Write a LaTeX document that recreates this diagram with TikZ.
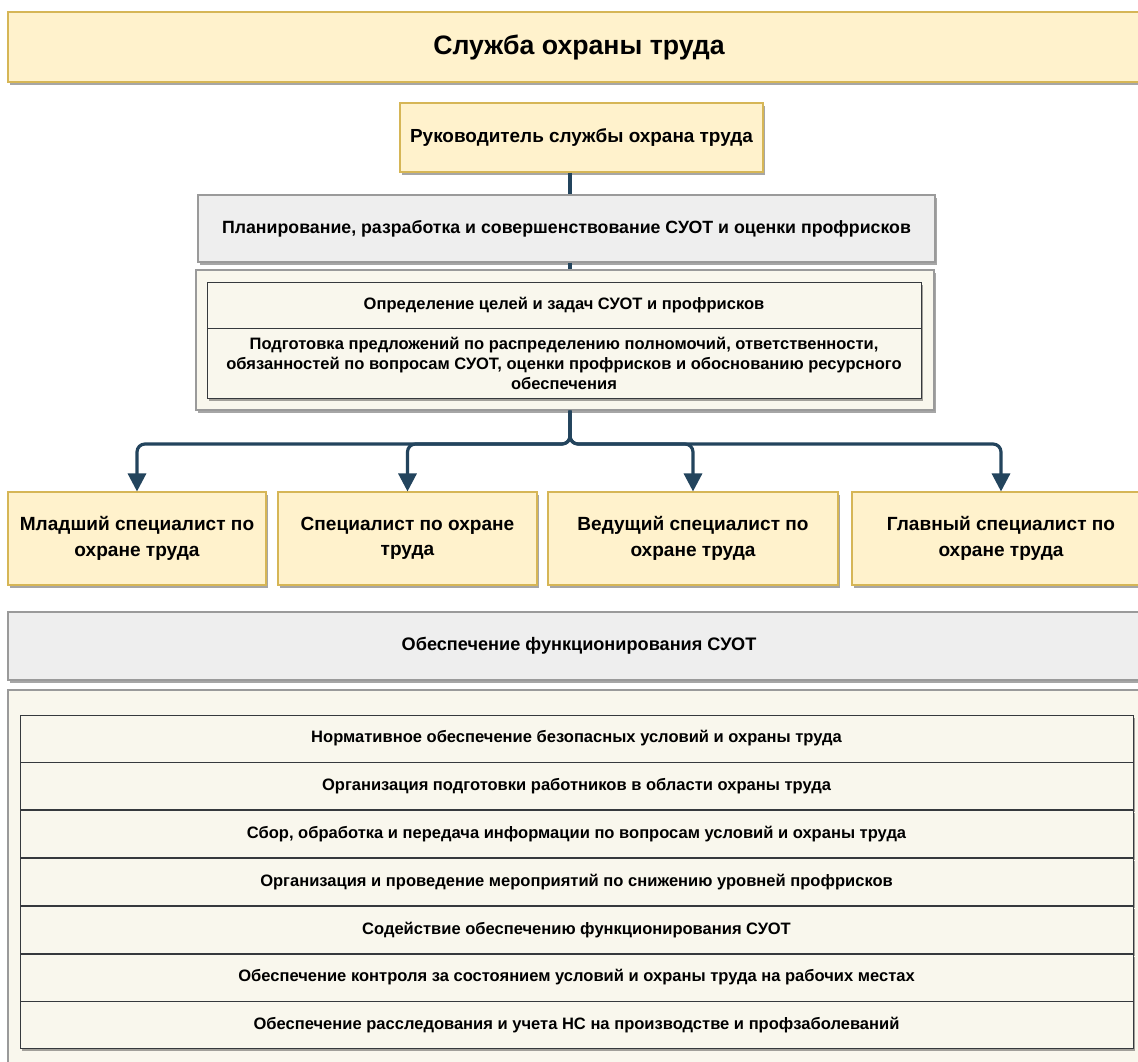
\documentclass[tikz,border=0pt]{standalone}
\usepackage{fontspec}
\setmainfont{Liberation Sans}
\usetikzlibrary{positioning,arrows.meta,shadows}
\definecolor{zheltyj}{HTML}{FFF2CC}
\definecolor{zheltkraj}{HTML}{D6B656}
\definecolor{seryj}{HTML}{EEEEEE}
\definecolor{serkraj}{HTML}{9A9A9A}
\definecolor{krem}{HTML}{F9F7ED}
\definecolor{temnyj}{HTML}{36393D}
\definecolor{sinij}{HTML}{23445D}

\tikzset{
  wh/.style 2 args={minimum width=#1*0.75pt, minimum height=#2*0.75pt},
  ten/.style={drop shadow={shadow xshift=1.6pt, shadow yshift=-2pt, fill=black, opacity=0.35}},
  blok/.style={rectangle, inner sep=0pt, align=center, font=\bfseries, ten},
  zhelt/.style={blok, draw=zheltkraj, fill=zheltyj, line width=0.8pt},
  ser/.style={blok, draw=serkraj, fill=seryj, line width=0.8pt},
  krm/.style={blok, draw=serkraj, fill=krem, line width=0.8pt},
  punkt/.style={blok, draw=temnyj, fill=krem, line width=0.6pt},
  strelka/.style={draw=sinij, line width=2.4pt, rounded corners=6pt,
    -{Triangle[length=13.5pt,width=13.5pt]}},
  liniya/.style={draw=sinij, line width=2.4pt}
}

\begin{document}
\begin{tikzpicture}[x=0.75pt,y=-0.75pt,shorten >=0pt]
   \useasboundingbox (0,0) rectangle (1138,1062);
   \fill[white] (0,0) rectangle (1138,1062);

   \node[zhelt, wh={1142}{70}, font=\bfseries\fontsize{20}{24}\selectfont] (titul) at (579,47) {Служба охраны труда};
   \node[zhelt, wh={363}{69}, font=\bfseries\fontsize{14.2}{17}\selectfont] (ruk) at (581.5,137.5) {Руководитель службы охрана труда};
   \node[ser, wh={737}{67}, font=\bfseries\fontsize{13.3}{16}\selectfont] (plan) at (566.5,228.5) {Планирование, разработка и совершенствование СУОТ и оценки профрисков};
   \node[krm, wh={738}{140}] (blk) at (565,340) {};
   \node[punkt, wh={714}{46}, font=\bfseries\fontsize{12.4}{15}\selectfont] (opr) at (564,305) {Определение целей и задач СУОТ и профрисков};
   \node[punkt, wh={714}{70}, font=\bfseries\fontsize{12.4}{15}\selectfont, below=0pt of opr] (podg)
     {Подготовка предложений по распределению полномочий, ответственности,\\
      обязанностей по вопросам СУОТ, оценки профрисков и обоснованию ресурсного\\
      обеспечения};

%  специалисты
   \node[zhelt, wh={258}{93}, font=\bfseries\fontsize{14.3}{19}\selectfont] (sp1) at (137,538.5) {Младший специалист по\\охране труда};
   \node[zhelt, wh={259}{93}, font=\bfseries\fontsize{14.3}{19}\selectfont] (sp2) at (407.5,538.5) {Специалист по охране\\труда};
   \node[zhelt, wh={290}{93}, font=\bfseries\fontsize{14.3}{19}\selectfont] (sp3) at (693,538.5) {Ведущий специалист по\\охране труда};
   \node[zhelt, wh={298}{93}, font=\bfseries\fontsize{14.3}{19}\selectfont] (sp4) at (1001,538.5) {Главный специалист по\\охране труда};

   \node[ser, wh={1142}{68}, font=\bfseries\fontsize{13.6}{17}\selectfont] (obesp) at (579,646) {Обеспечение функционирования СУОТ};
   \node[krm, wh={1142}{380}] (spisok) at (579,880) {};
   \node[punkt, wh={1113}{47}, font=\bfseries\fontsize{12.4}{15}\selectfont] (r1) at (576.5,738.5) {Нормативное обеспечение безопасных условий и охраны труда};
   \node[punkt, wh={1113}{47}, font=\bfseries\fontsize{12.4}{15}\selectfont, below=0pt of r1] (r2) {Организация подготовки работников в области охраны труда};
   \node[punkt, wh={1113}{47}, font=\bfseries\fontsize{12.4}{15}\selectfont, below=0pt of r2] (r3) {Сбор, обработка и передача информации по вопросам условий и охраны труда};
   \node[punkt, wh={1113}{47}, font=\bfseries\fontsize{12.4}{15}\selectfont, below=0pt of r3] (r4) {Организация и проведение мероприятий по снижению уровней профрисков};
   \node[punkt, wh={1113}{47}, font=\bfseries\fontsize{12.4}{15}\selectfont, below=0pt of r4] (r5) {Содействие обеспечению функционирования СУОТ};
   \node[punkt, wh={1113}{47}, font=\bfseries\fontsize{12.4}{15}\selectfont, below=0pt of r5] (r6) {Обеспечение контроля за состоянием условий и охраны труда на рабочих местах};
   \node[punkt, wh={1113}{47}, font=\bfseries\fontsize{12.4}{15}\selectfont, below=0pt of r6] (r7) {Обеспечение расследования и учета НС на производстве и профзаболеваний};

   \coordinate (vetv) at (570,444);
   \draw[liniya] (ruk.south -| vetv) -- (plan.north -| vetv);
   \draw[liniya] (plan.south -| vetv) -- (blk.north -| vetv);
   \draw[strelka] (blk.south -| vetv) |- (sp1.north |- vetv) -- (sp1.north);
   \draw[strelka] (blk.south -| vetv) |- (sp2.north |- vetv) -- (sp2.north);
   \draw[strelka] (blk.south -| vetv) |- (sp3.north |- vetv) -- (sp3.north);
   \draw[strelka] (blk.south -| vetv) |- (sp4.north |- vetv) -- (sp4.north);
\end{tikzpicture}
\end{document}
